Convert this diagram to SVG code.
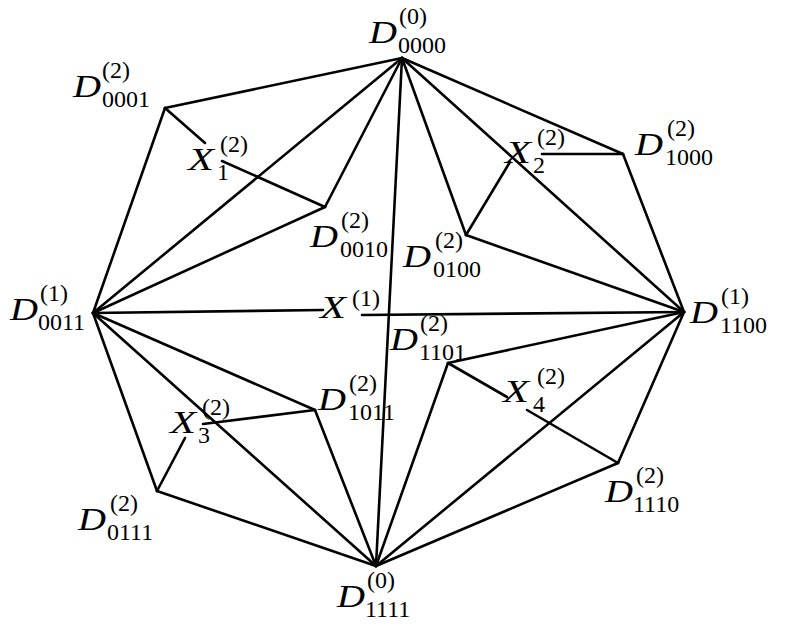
<svg xmlns="http://www.w3.org/2000/svg" width="786" height="632" viewBox="0 0 786 632">
<style>
.e{stroke:#000;stroke-width:2.6;fill:none;stroke-linecap:round;stroke-linejoin:round}
.m{font-family:"Liberation Serif",serif;font-style:italic;font-size:32px;fill:#000}
.s{font-family:"Liberation Serif",serif;font-size:24px;fill:#000}
</style>
<rect width="786" height="632" fill="#fff"/>
<g id="connectors" class="e">
<line x1="402" y1="58" x2="165" y2="108"/>
<line x1="402" y1="58" x2="623" y2="154"/>
<line x1="165" y1="108" x2="93" y2="313"/>
<line x1="623" y1="154" x2="684" y2="312"/>
<line x1="93" y1="313" x2="157" y2="491"/>
<line x1="684" y1="312" x2="618" y2="463"/>
<line x1="157" y1="491" x2="376" y2="566"/>
<line x1="618" y1="463" x2="376" y2="566"/>
<line x1="402" y1="58" x2="93" y2="313"/>
<line x1="402" y1="58" x2="325" y2="207"/>
<line x1="402" y1="58" x2="376" y2="566"/>
<line x1="402" y1="58" x2="466" y2="235"/>
<line x1="402" y1="58" x2="684" y2="312"/>
<line x1="93" y1="313" x2="325" y2="207"/>
<line x1="93" y1="313" x2="315" y2="410"/>
<line x1="93" y1="313" x2="376" y2="566"/>
<line x1="684" y1="312" x2="466" y2="235"/>
<line x1="684" y1="312" x2="448" y2="363"/>
<line x1="684" y1="312" x2="376" y2="566"/>
<line x1="376" y1="566" x2="315" y2="410"/>
<line x1="376" y1="566" x2="448" y2="363"/>
<line x1="165" y1="108" x2="205" y2="143"/>
<line x1="222" y1="161" x2="325" y2="207"/>
<line x1="623" y1="154" x2="542" y2="154"/>
<line x1="510" y1="162" x2="466" y2="235"/>
<line x1="315" y1="410" x2="203" y2="424"/>
<line x1="185" y1="438" x2="157" y2="491"/>
<line x1="448" y1="363" x2="507" y2="397"/>
<line x1="527" y1="410" x2="618" y2="463"/>
<line x1="93" y1="313" x2="323" y2="310"/>
<line x1="362" y1="315" x2="684" y2="312"/>
</g>
<g id="D0000"><text class="m" x="369" y="43" textLength="28" lengthAdjust="spacingAndGlyphs">D</text><text class="s" x="399" y="24">(0)</text><text class="s" x="398" y="53">0000</text></g>
<g id="D0001"><text class="m" x="73" y="97" textLength="28" lengthAdjust="spacingAndGlyphs">D</text><text class="s" x="102" y="78">(2)</text><text class="s" x="102" y="107">0001</text></g>
<g id="D1000"><text class="m" x="635" y="155" textLength="28" lengthAdjust="spacingAndGlyphs">D</text><text class="s" x="667" y="136">(2)</text><text class="s" x="665" y="165">1000</text></g>
<g id="D0011"><text class="m" x="10" y="320" textLength="28" lengthAdjust="spacingAndGlyphs">D</text><text class="s" x="40" y="301">(1)</text><text class="s" x="38" y="330">0011</text></g>
<g id="D0010"><text class="m" x="310" y="247" textLength="28" lengthAdjust="spacingAndGlyphs">D</text><text class="s" x="341" y="228">(2)</text><text class="s" x="340" y="257">0010</text></g>
<g id="D1011"><text class="m" x="318" y="410" textLength="28" lengthAdjust="spacingAndGlyphs">D</text><text class="s" x="349" y="391">(2)</text><text class="s" x="348" y="420">1011</text></g>
<g id="D0111"><text class="m" x="78" y="530" textLength="28" lengthAdjust="spacingAndGlyphs">D</text><text class="s" x="110" y="511">(2)</text><text class="s" x="107" y="540">0111</text></g>
<g id="D1111"><text class="m" x="337" y="607" textLength="28" lengthAdjust="spacingAndGlyphs">D</text><text class="s" x="367" y="588">(0)</text><text class="s" x="365" y="617">1111</text></g>
<g id="D0100"><text class="m" x="403" y="267" textLength="28" lengthAdjust="spacingAndGlyphs">D</text><text class="s" x="435" y="248">(2)</text><text class="s" x="433" y="277">0100</text></g>
<g id="D1100"><text class="m" x="690" y="323" textLength="28" lengthAdjust="spacingAndGlyphs">D</text><text class="s" x="721" y="304">(1)</text><text class="s" x="720" y="333">1100</text></g>
<g id="D1101"><text class="m" x="390" y="350" textLength="28" lengthAdjust="spacingAndGlyphs">D</text><text class="s" x="420" y="331">(2)</text><text class="s" x="419" y="360">1101</text></g>
<g id="D1110"><text class="m" x="605" y="502" textLength="28" lengthAdjust="spacingAndGlyphs">D</text><text class="s" x="636" y="483">(2)</text><text class="s" x="633" y="512">1110</text></g>
<g id="X1"><text class="m" x="188" y="170" textLength="26" lengthAdjust="spacingAndGlyphs">X</text><text class="s" x="220" y="152">(2)</text><text class="s" x="217" y="180">1</text></g>
<g id="X2"><text class="m" x="505" y="163" textLength="26" lengthAdjust="spacingAndGlyphs">X</text><text class="s" x="537" y="145">(2)</text><text class="s" x="533" y="173">2</text></g>
<g id="X3"><text class="m" x="170" y="433" textLength="26" lengthAdjust="spacingAndGlyphs">X</text><text class="s" x="202" y="415">(2)</text><text class="s" x="198" y="443">3</text></g>
<g id="X4"><text class="m" x="503" y="402" textLength="26" lengthAdjust="spacingAndGlyphs">X</text><text class="s" x="537" y="384">(2)</text><text class="s" x="533" y="412">4</text></g>
<g id="X0"><text class="m" x="320" y="318" textLength="26" lengthAdjust="spacingAndGlyphs">X</text><text class="s" x="352" y="306">(1)</text></g>
</svg>
